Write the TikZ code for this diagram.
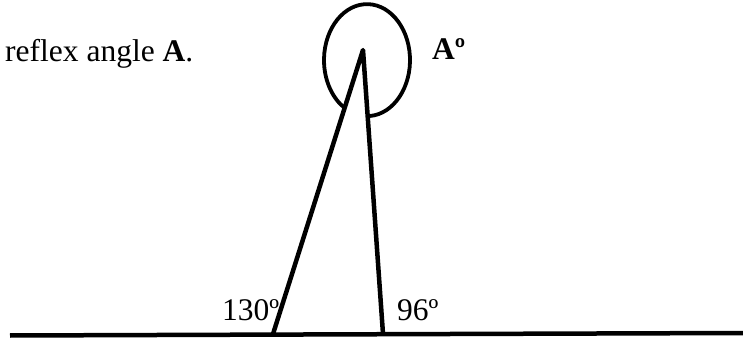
\documentclass[tikz,border=0pt]{standalone}
\usepackage{fontspec}
\setmainfont{Liberation Serif}
\begin{document}
\begin{tikzpicture}[x=1pt,y=1pt,
  lbl/.style={inner sep=0pt,anchor=base west,font=\fontsize{31.5}{38}\selectfont},
  thick line/.style={line width=4.5pt},
  ring/.style={line width=3.8pt}]
\useasboundingbox (0,0) rectangle (743,337);
\coordinate (apex) at (363,287);
\coordinate (lb) at (273,3);
\coordinate (rb) at (383,3);
\coordinate (g1) at (10,1.5);
\coordinate (g2) at (743,4);
\draw[thick line] (g1) -- (g2);
\draw[thick line,line join=round] (lb) -- (apex) -- (rb);
\draw[ring] (370,221) arc[start angle=-86,end angle=239,x radius=43,y radius=56];
\node[lbl] (t1) at (5,275) {reflex angle \textbf{A}.};
\node[lbl] (t2) at (432,277) {\textbf{Aº}};
\node[lbl] (t3) at (222,17) {130º};
\node[lbl] (t4) at (397,17) {96º};
\end{tikzpicture}
\end{document}
